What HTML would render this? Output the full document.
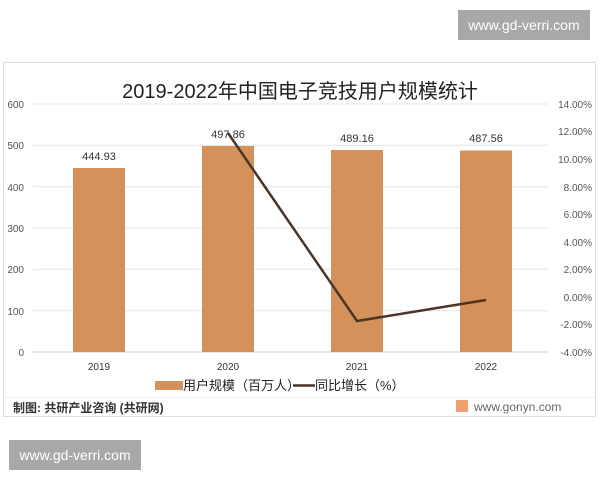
<!DOCTYPE html>
<html><head><meta charset="utf-8"><style>
body{margin:0;width:600px;height:480px;background:#fff;overflow:hidden;position:relative;font-family:"Liberation Sans","Noto Sans CJK SC",sans-serif}
.wm{position:absolute;background:#a8a8a8;color:#fff;font-size:14px;text-align:center;line-height:30px}
</style></head><body>
<div class="wm" style="left:458px;top:10px;width:132px;height:30px">www.gd-verri.com</div>
<div class="wm" style="left:9px;top:440px;width:132px;height:30px">www.gd-verri.com</div>
<svg width="600" height="480" style="position:absolute;left:0;top:0" font-family="Liberation Sans, Noto Sans CJK SC, sans-serif">
<rect x="3.5" y="62.5" width="592" height="354" fill="none" stroke="#ddd"/>
<text x="300" y="98" font-size="20" text-anchor="middle" fill="#222">2019-2022年中国电子竞技用户规模统计</text>
<g stroke="#e6e6e6">
<line x1="33" x2="548" y1="104" y2="104"/><line x1="33" x2="548" y1="145.3" y2="145.3"/><line x1="33" x2="548" y1="186.7" y2="186.7"/><line x1="33" x2="548" y1="228" y2="228"/><line x1="33" x2="548" y1="269.3" y2="269.3"/><line x1="33" x2="548" y1="310.7" y2="310.7"/></g>
<line x1="33" x2="548" y1="352" y2="352" stroke="#ccc"/>
<g font-size="10" fill="#555" text-anchor="end">
<text x="24" y="108">600</text><text x="24" y="149">500</text><text x="24" y="191">400</text><text x="24" y="232">300</text><text x="24" y="273">200</text><text x="24" y="315">100</text><text x="24" y="356">0</text></g>
<g font-size="10" fill="#555" text-anchor="end">
<text x="592" y="108">14.00%</text><text x="592" y="135">12.00%</text><text x="592" y="163">10.00%</text><text x="592" y="191">8.00%</text><text x="592" y="218">6.00%</text><text x="592" y="246">4.00%</text><text x="592" y="273">2.00%</text><text x="592" y="301">0.00%</text><text x="592" y="328">-2.00%</text><text x="592" y="356">-4.00%</text></g>
<g fill="#d4925a">
<rect x="73" y="168" width="52" height="184"/><rect x="202" y="146" width="52" height="206"/><rect x="331" y="150" width="52" height="202"/><rect x="460" y="150.5" width="52" height="201.5"/></g>
<g font-size="11" fill="#333" text-anchor="middle">
<text x="99" y="160">444.93</text><text x="228" y="138">497.86</text><text x="357" y="142">489.16</text><text x="486" y="142">487.56</text></g>
<polyline points="228,133 357,321 486,300" fill="none" stroke="#4a3526" stroke-width="2.5"/>
<g font-size="10" fill="#333" text-anchor="middle">
<text x="99" y="370">2019</text><text x="228" y="370">2020</text><text x="357" y="370">2021</text><text x="486" y="370">2022</text></g>
<rect x="155" y="381" width="28" height="9" fill="#d4925a"/>
<text x="183" y="390" font-size="13" fill="#222">用户规模（百万人）</text>
<line x1="293" x2="315" y1="385.5" y2="385.5" stroke="#4a3526" stroke-width="2.5"/>
<text x="315" y="390" font-size="13" fill="#222">同比增长（%）</text>
<line x1="4" x2="595" y1="397.5" y2="397.5" stroke="#eee"/>
<text x="13" y="412" font-size="12" fill="#333" font-weight="bold">制图: 共研产业咨询 (共研网)</text>
<rect x="456" y="400" width="12" height="12" fill="#f0a070"/>
<text x="474" y="411" font-size="12" fill="#666">www.gonyn.com</text>
</svg>
</body></html>
